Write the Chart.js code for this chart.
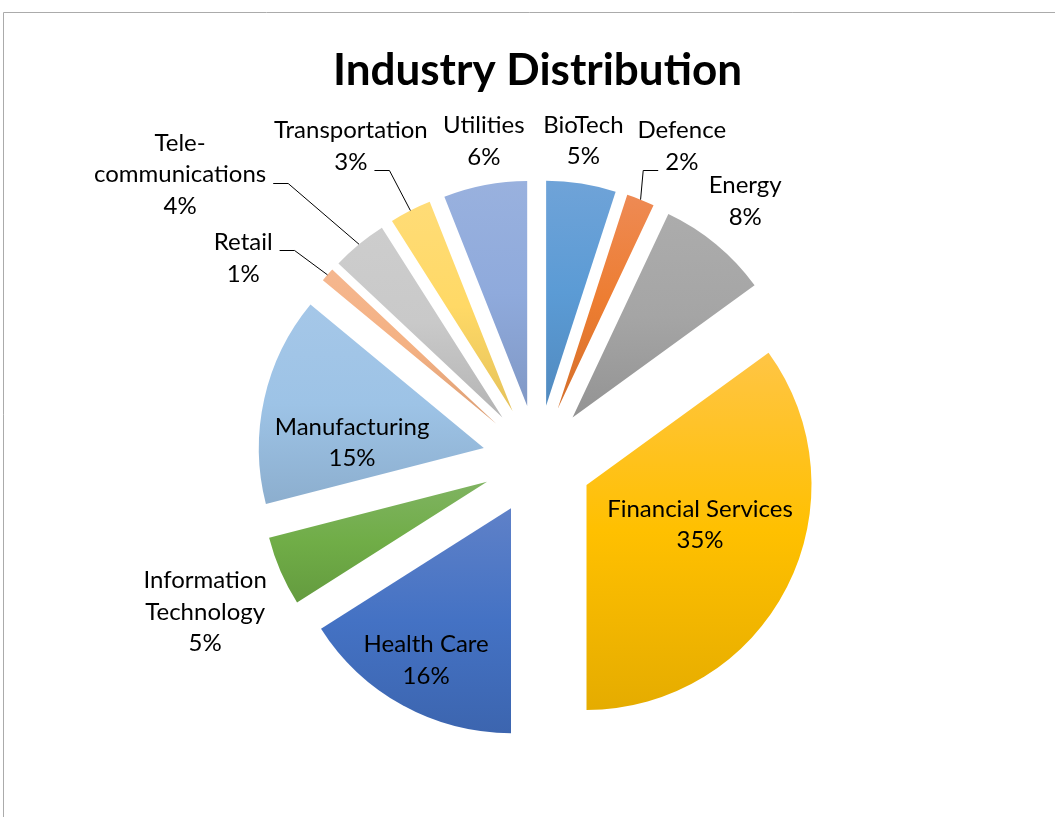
<!DOCTYPE html>
<html>
<head>
<meta charset="utf-8">
<title>Industry Distribution</title>
<script src="https://cdn.jsdelivr.net/npm/chart.js@4.4.1/dist/chart.umd.min.js"></script>
<style>
  html, body { margin: 0; padding: 0; background: #fff; }
  canvas { display: block; }
</style>
</head>
<body>
<canvas id="industryChart" width="1055" height="817"></canvas>
<script>
// Portfolio share by industry, in percent
const industries = ['BioTech', 'Defence', 'Energy', 'Financial Services', 'Health Care',
  'Information Technology', 'Manufacturing', 'Retail', 'Tele-communications', 'Transportation', 'Utilities'];
const shares = [5, 2, 8, 35, 16, 5, 15, 1, 4, 3, 6];
// how each category name wraps in its label
const labelLines = [['BioTech'], ['Defence'], ['Energy'], ['Financial Services'], ['Health Care'],
  ['Information', 'Technology'], ['Manufacturing'], ['Retail'], ['Tele-', 'communications'], ['Transportation'], ['Utilities']];
const baseColors = ['#5B9BD5', '#ED7D31', '#A5A5A5', '#FFC000', '#4472C4', '#70AD47',
  '#9DC3E6', '#F4B183', '#C9C9C9', '#FFD966', '#8FAADC'];

const EXPLODE = 55;      // px each slice is pulled out from the centre
const PIE_RADIUS = 225;
const LINE_H = 31.5;
const FONT_FAMILY = 'Lato, "Open Sans", sans-serif';
const LABEL_FONT = '24px ' + FONT_FAMILY;

// label placement: distance from the slice tip (in radii) and angle nudge (deg);
// leader = which text line the connector line attaches to
const labelSpots = [
  { r: 1.19, shift: -1 },
  { r: 1.29, shift: 3.7, leader: 1 },
  { r: 1.23, shift: -1 },
  { r: 0.535, shift: -7.6 },
  { r: 0.773, shift: 0.4 },
  { r: 1.38, shift: -1.4 },
  { r: 0.586, shift: -10.4 },
  { r: 1.344, shift: -8.2, leader: 0 },
  { r: 1.794, shift: -13.4, leader: 1 },
  { r: 1.379, shift: -4.4, leader: 1 },
  { r: 1.193, shift: 1.5 }
];

// colour helpers for the light-top / dark-bottom slice fill
function toLinear(c) { c /= 255; return c <= 0.04045 ? c / 12.92 : Math.pow((c + 0.055) / 1.055, 2.4); }
function toSrgb(l) {
  l = Math.min(1, Math.max(0, l));
  const c = l <= 0.0031308 ? l * 12.92 : 1.055 * Math.pow(l, 1 / 2.4) - 0.055;
  return Math.round(c * 255);
}
function hexRgb(hex) { const n = parseInt(hex.slice(1), 16); return [n >> 16, (n >> 8) & 255, n & 255]; }
function tint(hex, t) { return 'rgb(' + hexRgb(hex).map(c => toSrgb(toLinear(c) * t + (1 - t))).join(',') + ')'; }
function shade(hex, s) { return 'rgb(' + hexRgb(hex).map(c => toSrgb(toLinear(c) * s)).join(',') + ')'; }

// outer frame of the chart
const chartFrame = {
  id: 'chartFrame',
  beforeDraw(chart) {
    const ctx = chart.ctx;
    ctx.save();
    ctx.strokeStyle = '#ababab';
    ctx.lineWidth = 1;
    ctx.beginPath();
    ctx.moveTo(3.5, chart.height);
    ctx.lineTo(3.5, 12.5);
    ctx.lineTo(chart.width, 12.5);
    ctx.stroke();
    ctx.restore();
  }
};

// draws every slice pulled out along its middle angle, with a vertical gradient
const explodedSlices = {
  id: 'explodedSlices',
  beforeDatasetDraw(chart, args) {
    const ctx = chart.ctx;
    args.meta.data.forEach((arc, i) => {
      const { y, startAngle, endAngle, outerRadius } =
        arc.getProps(['y', 'startAngle', 'endAngle', 'outerRadius'], true);
      const mid = (startAngle + endAngle) / 2;
      let top = y, bottom = y;
      for (let k = 0; k <= 48; k++) {
        const yy = y + Math.sin(startAngle + (endAngle - startAngle) * k / 48) * outerRadius;
        top = Math.min(top, yy);
        bottom = Math.max(bottom, yy);
      }
      const grad = ctx.createLinearGradient(0, top, 0, bottom);
      grad.addColorStop(0, tint(baseColors[i], 0.94));
      grad.addColorStop(0.5, baseColors[i]);
      grad.addColorStop(1, shade(baseColors[i], 0.78));

      const opts = arc.options;
      arc.options = Object.assign({}, opts, { backgroundColor: grad });
      ctx.save();
      ctx.translate(Math.cos(mid) * EXPLODE, Math.sin(mid) * EXPLODE);
      arc.draw(ctx, chart.chartArea);
      ctx.restore();
      arc.options = opts;
    });
    return false;
  }
};

// category + percent labels, with connector lines for the small slices
const sliceLabels = {
  id: 'sliceLabels',
  afterDatasetsDraw(chart) {
    const ctx = chart.ctx;
    const arcs = chart.getDatasetMeta(0).data;
    ctx.save();
    ctx.font = LABEL_FONT;
    ctx.fillStyle = '#000';
    ctx.strokeStyle = '#000';
    ctx.lineWidth = 1;
    ctx.textAlign = 'center';
    ctx.textBaseline = 'middle';
    arcs.forEach((arc, i) => {
      const { x, y, startAngle, endAngle, outerRadius } =
        arc.getProps(['x', 'y', 'startAngle', 'endAngle', 'outerRadius'], true);
      const mid = (startAngle + endAngle) / 2;
      const tipX = x + Math.cos(mid) * EXPLODE;
      const tipY = y + Math.sin(mid) * EXPLODE;
      const spot = labelSpots[i];
      const a = mid + spot.shift * Math.PI / 180;
      const px = tipX + Math.cos(a) * outerRadius * spot.r;
      const py = tipY + Math.sin(a) * outerRadius * spot.r;
      const lines = labelLines[i].concat(shares[i] + '%');
      const first = py - (lines.length - 1) * LINE_H / 2;
      lines.forEach((t, k) => ctx.fillText(t, px, first + k * LINE_H));

      if (spot.leader !== undefined) {
        const k = spot.leader;
        const w = ctx.measureText(lines[k]).width;
        const ly = Math.round(first + k * LINE_H + 8) + 0.5;
        const side = Math.cos(mid) < 0 ? 1 : -1;   // left-hand labels connect on their right edge
        const ex = px + side * (w / 2 + 7);
        const bx = ex + side * 15;
        const sx = tipX + Math.cos(mid) * outerRadius;
        const sy = tipY + Math.sin(mid) * outerRadius;
        ctx.beginPath();
        ctx.moveTo(sx, sy);
        ctx.lineTo(bx, ly);
        ctx.lineTo(ex, ly);
        ctx.stroke();
      }
    });
    ctx.restore();
  }
};

const ctx = document.getElementById('industryChart').getContext('2d');
const chart = new Chart(ctx, {
  type: 'pie',
  data: {
    labels: industries,
    datasets: [{
      data: shares,
      backgroundColor: baseColors,
      borderWidth: 0,
      radius: PIE_RADIUS
    }]
  },
  options: {
    responsive: false,
    animation: false,
    layout: { padding: { left: 20, right: 0, top: 0, bottom: 0 } },
    plugins: {
      legend: { display: false },
      tooltip: { enabled: false },
      title: {
        display: true,
        text: 'Industry Distribution',
        color: '#000',
        font: { family: FONT_FAMILY, size: 44, weight: 'bold' },
        padding: { top: 44.6, bottom: 5.6 }
      }
    }
  },
  plugins: [chartFrame, explodedSlices, sliceLabels]
});
</script>
</body>
</html>
